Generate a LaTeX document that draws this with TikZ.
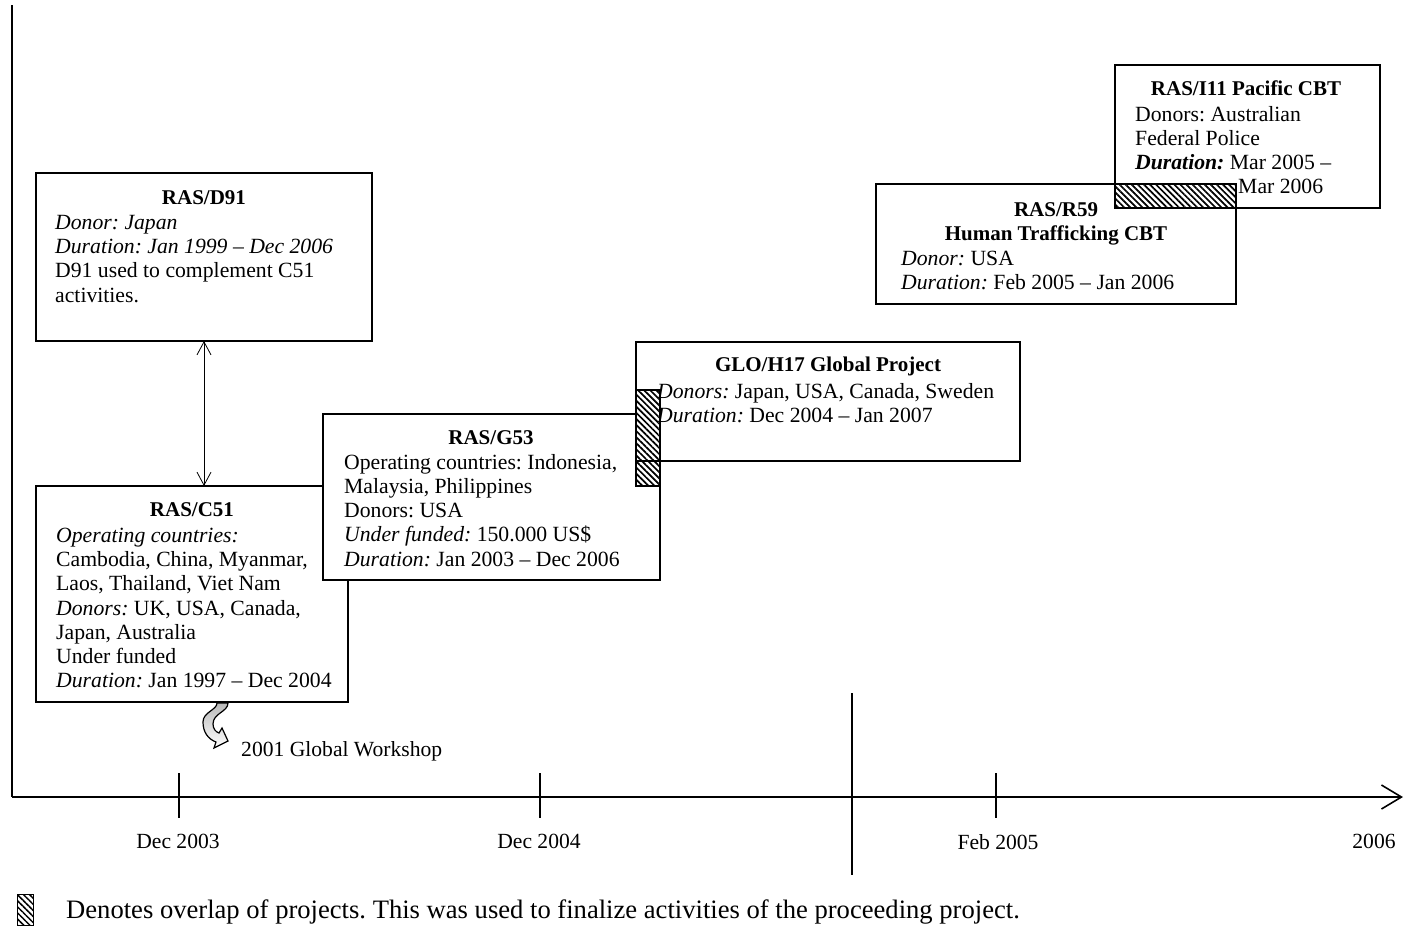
\documentclass[tikz,border=0pt]{standalone}
\usepackage{fontspec}
\setmainfont{Liberation Serif}
\usetikzlibrary{arrows.meta,patterns.meta}
\begin{document}
\frenchspacing
\begin{tikzpicture}[x=1pt,y=-1pt,
  box/.style={draw, line width=1.6pt, fill=white, anchor=north west, inner sep=0pt, outer sep=0pt},
  body/.style={anchor=north west, inner sep=0pt, align=left, font=\fontsize{21.7}{24.2}\selectfont\frenchspacing},
  ttl/.style={anchor=north, inner sep=0pt, align=center, font=\fontsize{21}{24.8}\selectfont\bfseries\frenchspacing},
  hatchbox/.style={draw, line width=1.6pt, anchor=north west, inner sep=0pt, outer sep=0pt,
    pattern={Lines[angle=-45,distance=4.3pt,line width=1.7pt]}},
  axisline/.style={line width=1.6pt},
  lbl/.style={inner sep=0pt, font=\fontsize{21.6}{24}\selectfont\frenchspacing},
  barb/.style={line width=0.8pt, {Straight Barb[length=13pt,width=14pt]}-{Straight Barb[length=13pt,width=14pt]}},
]
\useasboundingbox (0,0) rectangle (1411,938);

% axes
\coordinate (ytop) at (12,5);
\coordinate (orig) at (12,797);
\coordinate (xend) at (1403,797);
\draw[axisline] (ytop) -- (orig);
\draw[axisline, -{Straight Barb[length=20pt,width=24pt,line width=1.6pt]}] (orig) -- (xend);
\coordinate (t1a) at (179,773); \coordinate (t1b) at (179,818);
\coordinate (t2a) at (540,773); \coordinate (t2b) at (540,818);
\coordinate (t3a) at (996,773); \coordinate (t3b) at (996,818);
\coordinate (t4a) at (852,693); \coordinate (t4b) at (852,875);
\draw[axisline] (t1a) -- (t1b);
\draw[axisline] (t2a) -- (t2b);
\draw[axisline] (t3a) -- (t3b);
\draw[axisline] (t4a) -- (t4b);
\node[lbl, anchor=base] (l1) at (178,848) {Dec 2003};
\node[lbl, anchor=base] (l2) at (539,848) {Dec 2004};
\node[lbl, anchor=base] (l3) at (998,849) {Feb 2005};
\node[lbl, anchor=base] (l4) at (1374,848) {2006};

% RAS/D91
\node[box, minimum width=336pt, minimum height=168pt] (d91) at (36,173) {};
\node[ttl] (d91h) at (204,190) {RAS/D91};
\node[body] (d91b) at (55,215) {\textit{Donor: Japan}\\ \textit{Duration: Jan 1999 -- Dec 2006}\\ D91 used to complement C51\\ activities.};

% RAS/C51
\node[box, minimum width=312pt, minimum height=216pt] (c51) at (36,486) {};
\node[ttl] (c51h) at (192,502) {RAS/C51};
\node[body] (c51b) at (56,528) {\textit{Operating countries:}\\ Cambodia, China, Myanmar,\\ Laos, Thailand, Viet Nam\\ \textit{Donors:} UK, USA, Canada,\\ Japan, Australia\\ Under funded\\ \textit{Duration:} Jan 1997 -- Dec 2004};

\draw[barb] (d91.south -| 204,0) -- (c51.north -| 204,0);

% RAS/G53
\node[box, minimum width=337pt, minimum height=166pt] (g53) at (323,414) {};
\node[ttl] (g53h) at (491,430) {RAS/G53};
\node[body] (g53b) at (344,454) {Operating countries: Indonesia,\\ Malaysia, Philippines\\ Donors: USA\\ \textit{Under funded:} 150.000 US\$\\ \textit{Duration:} Jan 2003 -- Dec 2006};

% GLO/H17
\node[box, minimum width=384pt, minimum height=119pt] (glo) at (636,342) {};
\node[ttl] (gloh) at (828,357) {GLO/H17 Global Project};
\node[body] (glob) at (657,383) {\textit{Donors:} Japan, USA, Canada, Sweden\\ \textit{Duration:} Dec 2004 -- Jan 2007};
\node[hatchbox, minimum width=24pt, minimum height=96pt] (ov1) at (636,390) {};

% RAS/I11
\node[box, minimum width=265pt, minimum height=143pt] (i11) at (1115,65) {};
\node[ttl] (i11h) at (1246,81) {RAS/I11 Pacific CBT};
\node[body] (i11b) at (1135,106) {Donors: Australian\\ Federal Police\\ \textbf{\textit{Duration:}} Mar 2005 --\\ \hspace*{103pt}Mar 2006};

% RAS/R59
\node[box, minimum width=360pt, minimum height=120pt] (r59) at (876,184) {};
\node[ttl] (r59h) at (1056,202) {RAS/R59\\ Human Trafficking CBT};
\node[body] (r59b) at (901,251) {\textit{Donor:} USA\\ \textit{Duration:} Feb 2005 -- Jan 2006};
\node[hatchbox, minimum width=121pt, minimum height=24pt] (ov2) at (1115,184) {};

% curved arrow to workshop
\filldraw[line width=1.2pt, top color=gray!55, bottom color=white, draw=black]
  (217,703) -- (228,703) .. controls (228,712) and (213,713) .. (213,724)
  .. controls (213,729) and (216,732) .. (219,733) -- (222,728) -- (228,741) -- (214,748) -- (216,742)
  .. controls (208,739) and (203,732) .. (203,722) .. controls (203,712) and (217,710) .. (217,703) -- cycle;
\node[lbl, anchor=base west] (ws) at (241,756) {2001 Global Workshop};

% legend
\node[hatchbox, line width=0.6pt, minimum width=16pt, minimum height=31pt,
  pattern={Lines[angle=-45,distance=4.3pt,line width=1.5pt]}] (leg) at (17,894) {};
\node[lbl, anchor=base west, font=\fontsize{26.6}{30}\selectfont] (legt) at (66,918) {Denotes overlap of projects. This was used to finalize activities of the proceeding project.};
\end{tikzpicture}
\end{document}
